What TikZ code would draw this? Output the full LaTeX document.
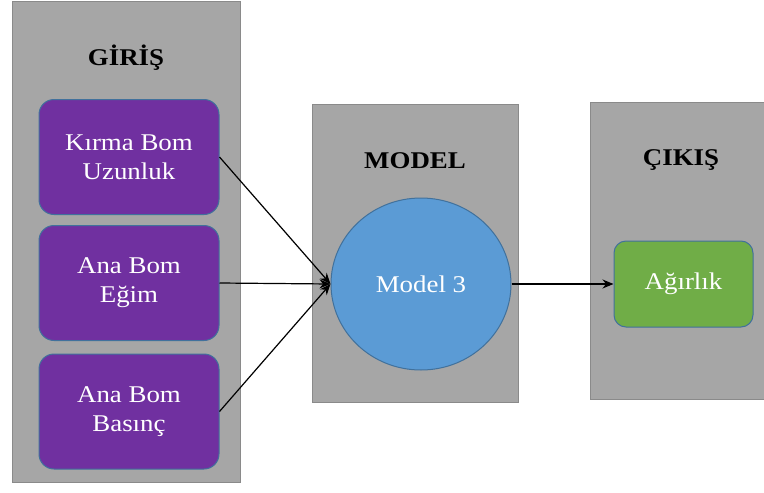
\documentclass[tikz,border=0pt]{standalone}
\usepackage{fontspec}
\setmainfont[FakeStretch=1.12]{Liberation Serif}
\usetikzlibrary{shapes.geometric,arrows.meta}
\definecolor{panelgray}{HTML}{A6A6A6}
\definecolor{panelline}{HTML}{8A8A8A}
\definecolor{inpurple}{HTML}{7030A0}
\definecolor{modelblue}{HTML}{5B9BD5}
\definecolor{outgreen}{HTML}{70AD47}
\definecolor{shapeline}{HTML}{41719C}
\tikzset{
  panel/.style={fill=panelgray, draw=panelline, line width=1pt},
  paneltitle/.style={font=\fontsize{24}{29}\selectfont\bfseries, text=black},
  inbox/.style={rectangle, rounded corners=15pt, fill=inpurple, draw=shapeline,
    line width=1pt, minimum width=180pt, minimum height=115pt, align=center,
    text=white, font=\fontsize{24}{29}\selectfont, inner sep=0pt},
  modelnode/.style={ellipse, fill=modelblue, draw=shapeline, line width=1pt,
    minimum width=180pt, minimum height=172pt, text=white,
    font=\fontsize{24}{29}\selectfont, inner sep=0pt},
  outbox/.style={rectangle, rounded corners=12pt, fill=outgreen, draw=shapeline,
    line width=1pt, minimum width=139pt, minimum height=86pt, text=white,
    font=\fontsize{24}{29}\selectfont, inner sep=0pt},
  flow/.style={draw=black, line width=1.2pt, -{Stealth[length=11pt,width=9pt]}},
}
\begin{document}
\begin{tikzpicture}[x=1pt, y=-1pt]
  \useasboundingbox (0,0) rectangle (764,493);
  \clip (0,0) rectangle (764,493);
  % grey group panels
  \path[panel] (12,1) rectangle (240,482);
  \path[panel] (312,104) rectangle (518,402);
  \path[panel] (590,102) rectangle (775,399);
  % panel titles
  \node[paneltitle] (tin) at (126,58) {GİRİŞ};
  \node[paneltitle] (tmodel) at (415,161) {MODEL};
  \node[paneltitle] (tout) at (681,160) {ÇIKIŞ};
  % inputs
  \node[inbox] (kirma) at (129,157) {Kırma Bom\\Uzunluk};
  \node[inbox] (egim) at (129,283) {Ana Bom\\Eğim};
  \node[inbox] (basinc) at (129,411.5) {Ana Bom\\Basınç};
  % model
  \node[modelnode] (model) at (421,284) {Model 3};
  % output
  \node[outbox] (agirlik) at (683.5,284) {Ağırlık};
  % connectors
  \draw[flow] (kirma.east) -- (model.west);
  \draw[flow] (egim.east) -- (model.west);
  \draw[flow] (basinc.east) -- (model.west);
  \draw[flow] (model.east) -- (agirlik.west);
\end{tikzpicture}
\end{document}
